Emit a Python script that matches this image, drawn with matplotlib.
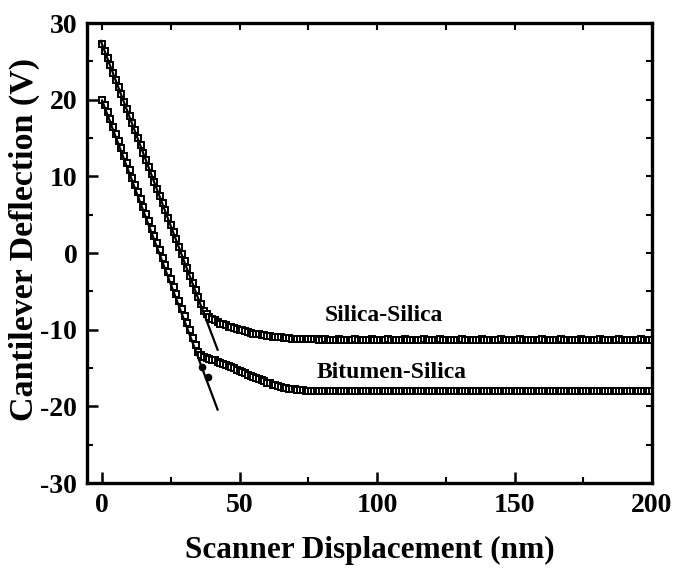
import numpy as np
import matplotlib
matplotlib.use("Agg")
from matplotlib import pyplot as plt
from matplotlib.ticker import MultipleLocator

plt.rcParams["font.family"] = ["Liberation Serif", "DejaVu Serif"]
plt.rcParams["font.weight"] = "bold"
plt.rcParams["axes.unicode_minus"] = False

# scanner displacement (nm), one reading per nm
displacement = np.arange(0, 201)

# cantilever deflection (V), silica probe on silica
silica = [
    27.3, 26.4, 25.4, 24.5, 23.5, 22.6, 21.6, 20.7, 19.7, 18.8,
    17.9, 16.9, 16.0, 15.0, 14.1, 13.1, 12.2, 11.2, 10.3, 9.3,
    8.4, 7.5, 6.5, 5.6, 4.6, 3.7, 2.7, 1.8, 0.8, -0.1,
    -1.1, -2.0, -3.0, -3.9, -4.8, -5.8, -6.7, -7.5, -8.0, -8.3,
    -8.6, -8.8, -9.0, -9.2, -9.3, -9.45, -9.6, -9.7, -9.8, -9.9,
    -10.0, -10.1, -10.2, -10.3, -10.4, -10.5, -10.55, -10.6, -10.7, -10.75,
    -10.8, -10.85, -10.9, -10.95, -11.0, -11.0, -11.05, -11.1, -11.1, -11.15,
    -11.15, -11.2, -11.2, -11.2, -11.2, -11.25, -11.25, -11.25, -11.25, -11.3,
    -11.3, -11.25, -11.3, -11.35, -11.3, -11.3, -11.25, -11.3, -11.3, -11.35,
    -11.3, -11.3, -11.25, -11.3, -11.35, -11.3, -11.3, -11.3, -11.25, -11.3,
    -11.3, -11.35, -11.3, -11.3, -11.25, -11.3, -11.3, -11.3, -11.35, -11.3,
    -11.25, -11.3, -11.3, -11.3, -11.35, -11.3, -11.3, -11.25, -11.3, -11.3,
    -11.3, -11.35, -11.3, -11.25, -11.3, -11.3, -11.3, -11.3, -11.35, -11.3,
    -11.3, -11.25, -11.3, -11.3, -11.3, -11.35, -11.3, -11.3, -11.25, -11.3,
    -11.3, -11.3, -11.35, -11.3, -11.3, -11.25, -11.3, -11.3, -11.3, -11.35,
    -11.3, -11.3, -11.25, -11.3, -11.3, -11.3, -11.35, -11.3, -11.3, -11.3,
    -11.25, -11.3, -11.3, -11.35, -11.3, -11.3, -11.3, -11.25, -11.3, -11.3,
    -11.35, -11.3, -11.3, -11.3, -11.25, -11.3, -11.3, -11.3, -11.35, -11.3,
    -11.3, -11.25, -11.3, -11.3, -11.3, -11.35, -11.3, -11.3, -11.25, -11.3,
    -11.3, -11.3, -11.35, -11.3, -11.3, -11.3, -11.25, -11.3, -11.3, -11.3,
    -11.3,
]

# cantilever deflection (V), silica probe on bitumen
bitumen = [
    20.0, 19.3, 18.4, 17.45, 16.5, 15.55, 14.6, 13.65, 12.7, 11.75,
    10.8, 9.85, 8.9, 7.95, 7.0, 6.05, 5.1, 4.15, 3.2, 2.25,
    1.3, 0.35, -0.6, -1.55, -2.5, -3.45, -4.4, -5.35, -6.3, -7.25,
    -8.2, -9.15, -10.1, -11.05, -12.0, -12.9, -13.3, -13.5, -13.65, -13.8,
    -13.9, -14.0, -14.15, -14.3, -14.45, -14.6, -14.75, -14.9, -15.05, -15.2,
    -15.4, -15.55, -15.7, -15.85, -16.0, -16.15, -16.3, -16.45, -16.6, -16.75,
    -16.9, -17.0, -17.15, -17.25, -17.35, -17.45, -17.55, -17.6, -17.7, -17.75,
    -17.8, -17.85, -17.9, -17.9, -17.95, -17.95, -18.0, -18.0, -18.0, -18.0,
    -18.0, -17.95, -18.0, -18.05, -18.0, -18.0, -17.95, -18.0, -18.0, -18.05,
    -18.0, -18.0, -17.95, -18.0, -18.05, -18.0, -18.0, -18.0, -17.95, -18.0,
    -18.0, -18.05, -18.0, -18.0, -17.95, -18.0, -18.0, -18.0, -18.05, -18.0,
    -17.95, -18.0, -18.0, -18.0, -18.05, -18.0, -18.0, -17.95, -18.0, -18.0,
    -18.0, -18.05, -18.0, -17.95, -18.0, -18.0, -18.0, -18.0, -18.05, -18.0,
    -18.0, -17.95, -18.0, -18.0, -18.0, -18.05, -18.0, -18.0, -17.95, -18.0,
    -18.0, -18.0, -18.05, -18.0, -18.0, -17.95, -18.0, -18.0, -18.0, -18.05,
    -18.0, -18.0, -17.95, -18.0, -18.0, -18.0, -18.05, -18.0, -18.0, -18.0,
    -17.95, -18.0, -18.0, -18.05, -18.0, -18.0, -18.0, -17.95, -18.0, -18.0,
    -18.05, -18.0, -18.0, -18.0, -17.95, -18.0, -18.0, -18.0, -18.05, -18.0,
    -18.0, -17.95, -18.0, -18.0, -18.0, -18.05, -18.0, -18.0, -17.95, -18.0,
    -18.0, -18.0, -18.05, -18.0, -18.0, -18.0, -17.95, -18.0, -18.0, -18.0,
    -18.0,
]

# a couple of readings that jump in past the knee on bitumen
jump_x = [36.5, 38.5]
jump_y = [-14.9, -16.2]

# linear fits to the contact region: slope (V/nm), intercept (V), x range
silica_fit = (-0.948, 27.2, -0.5, 42.0)
bitumen_fit = (-0.96, 19.9, 0.0, 42.0)

fig = plt.figure(figsize=(6.76, 5.69), dpi=100)
ax = fig.add_axes([0.1287, 0.1511, 0.8358, 0.8084])

mk = dict(linestyle="none", marker="s", markersize=4.4, markerfacecolor="white",
          markeredgecolor="black", markeredgewidth=1.4)
ax.plot(displacement, silica, **mk)
ax.plot(displacement, bitumen, **mk)
ax.plot(jump_x, jump_y, linestyle="none", marker="o", markersize=4.5, color="black")

for slope, icpt, x0, x1 in (silica_fit, bitumen_fit):
    xs = np.array([x0, x1])
    ax.plot(xs, icpt + slope * xs, color="black", linewidth=1.6)

ax.text(81, -8.1, "Silica-Silica", fontsize=17, fontweight="bold", va="center", ha="left")
ax.text(78, -15.6, "Bitumen-Silica", fontsize=17, fontweight="bold", va="center", ha="left")

ax.set_xlim(-5.5, 200)
ax.set_ylim(-30, 30)
ax.xaxis.set_major_locator(MultipleLocator(50))
ax.xaxis.set_minor_locator(MultipleLocator(25))
ax.yaxis.set_major_locator(MultipleLocator(10))
ax.yaxis.set_minor_locator(MultipleLocator(5))
ax.tick_params(which="major", direction="in", length=8, width=1.8, labelsize=20, pad=7)
ax.tick_params(which="minor", direction="in", length=4.5, width=1.5)
for side in ax.spines.values():
    side.set_linewidth(2.4)

# unlabelled ticks on the top and right edges
top = ax.secondary_xaxis("top")
top.xaxis.set_major_locator(MultipleLocator(25))
top.tick_params(direction="in", length=5, width=1.5, labeltop=False)
right = ax.secondary_yaxis("right")
right.yaxis.set_major_locator(MultipleLocator(5))
right.tick_params(direction="in", length=4, width=1.5, labelright=False)

ax.set_xlabel("Scanner Displacement (nm)", fontsize=22.5, fontweight="bold")
ax.set_ylabel("Cantilever Deflection (V)", fontsize=24.5, fontweight="bold")
ax.xaxis.set_label_coords(0.5, -0.115)
ax.yaxis.set_label_coords(-0.084, 0.53)

plt.savefig("out.png", dpi=100)
